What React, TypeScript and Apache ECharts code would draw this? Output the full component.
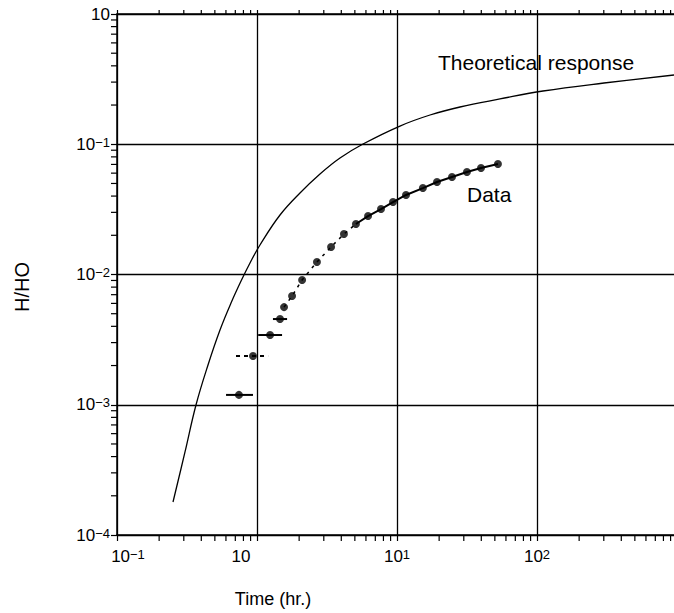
import React, { useEffect, useRef } from 'react';
import * as echarts from 'echarts';

// Theoretical response curve (time in hr, H/HO)
const THEORY_T = [0.2512, 0.306, 0.3666, 0.4467, 0.5441, 0.6521, 0.7814, 0.8913, 1.05, 1.46, 2.028, 2.818, 3.916, 5.717, 10.5, 17.21, 28.18, 54.41, 110.4, 301, 952];
const THEORY_H = [1.792e-4, 4.34e-4, 9.96e-4, 2.02e-3, 3.75e-3, 6.04e-3, 9.23e-3, 0.01226, 0.01684, 0.02862, 0.04223, 0.05909, 0.07839, 0.1004, 0.138, 0.1677, 0.1932, 0.2226, 0.2563, 0.2953, 0.3402];

// Measured data
const DATA_T = [0.743, 0.936, 1.24, 1.46, 1.56, 1.78, 2.10, 2.68, 3.38, 4.18, 5.09, 6.21, 7.69, 9.36, 11.6, 15.3, 19.3, 24.7, 31.6, 39.8, 52.6];
const DATA_H = [1.19e-3, 2.37e-3, 3.43e-3, 4.55e-3, 5.62e-3, 6.84e-3, 9.08e-3, 0.01248, 0.01626, 0.02046, 0.02443, 0.0281, 0.0318, 0.036, 0.0408, 0.0461, 0.0513, 0.0561, 0.0612, 0.0657, 0.0705];

// Horizontal bars on the early data points
const BAR_T_LOW = [0.601, 0.708, 1.02, 1.30];
const BAR_T_HIGH = [0.936, 1.2, 1.51, 1.64];
const BAR_H = [1.19e-3, 2.37e-3, 3.43e-3, 4.55e-3];
const BAR_DASHED = [false, true, false, false];

// Where the data trace is drawn dashed / solid
const DASH_FROM = 4;
const SOLID_FROM = 10;

// Axes
const X_MIN = 0.1;
const X_MAX = 1000;
const Y_MIN = 1e-4;
const Y_MAX = 1;
const X_TICK_EXPONENTS = [-1, 0, 1, 2];
const X_TICK_SUPER = ['−1', '', '1', '2'];
const Y_TICK_EXPONENTS = [-4, -3, -2, -1, 0];
const Y_TICK_SUPER = ['−4', '−3', '−2', '−1', ''];
const X_DECADES = [0.1, 1, 10, 100];
const Y_DECADES = [1e-4, 1e-3, 1e-2, 1e-1];
const MINOR_MULT = [2, 3, 4, 5, 6, 7, 8, 9];

const FONT = 'Liberation Sans, Arial, Helvetica, sans-serif';

export default function App() {
  const ref = useRef<HTMLDivElement>(null);

  useEffect(() => {
    if (!ref.current) return;
    const chart = echarts.init(ref.current, null, { renderer: 'svg' });

    const minorX: number[] = [];
    X_DECADES.forEach((d) => MINOR_MULT.forEach((m) => minorX.push(d * m)));
    const minorY: number[] = [];
    Y_DECADES.forEach((d) => MINOR_MULT.forEach((m) => minorY.push(d * m)));

    const theory = THEORY_T.map((t, i) => [t, THEORY_H[i]]);
    const data = DATA_T.map((t, i) => [t, DATA_H[i]]);
    const dashed = data.slice(DASH_FROM, SOLID_FROM + 1);
    const solid = data.slice(SOLID_FROM);
    const bars = BAR_H.map((h, i) => [BAR_T_LOW[i], h, BAR_T_HIGH[i], BAR_DASHED[i] ? 1 : 0]);

    const tickStyle = { stroke: '#000', lineWidth: 1.2 };

    const xLabel = (v: number) => {
      const e = Math.round(Math.log10(v));
      const i = X_TICK_EXPONENTS.indexOf(e);
      if (i < 0) return '';
      const sup = X_TICK_SUPER[i];
      const base = i === 0 ? 'b0' : i === 1 ? 'b1' : 'b';
      return sup ? `{${base}|10}{s|${sup}}` : `{${base}|10}`;
    };
    const yLabel = (v: number) => {
      const e = Math.round(Math.log10(v));
      const i = Y_TICK_EXPONENTS.indexOf(e);
      if (i < 0) return '';
      const sup = Y_TICK_SUPER[i];
      return sup ? `{b|10}{s|${sup}}` : `{b|10}`;
    };
    const base = { fontSize: 17, fontFamily: FONT, color: '#000', lineHeight: 17, verticalAlign: 'bottom' };
    const rich = {
      b: base,
      b0: { ...base, padding: [0, 0, 0, 22] },
      b1: { ...base, padding: [6, 32, 0, 0] },
      s: { fontSize: 13, fontFamily: FONT, color: '#000', lineHeight: 13, verticalAlign: 'top', padding: [0, 0, 10, 0] },
    };

    const gridLine = { show: true, lineStyle: { color: '#000', width: 1.3 } };

    chart.setOption({
      animation: false,
      backgroundColor: '#fff',
      grid: { left: 117, right: 0, top: 14, bottom: 78, containLabel: false },
      xAxis: [
        {
          type: 'log',
          logBase: 10,
          min: X_MIN,
          max: X_MAX,
          axisLine: { show: true, onZero: false, lineStyle: { color: '#000', width: 1.5 } },
          axisTick: { show: true, inside: false, length: 6, lineStyle: { color: '#000', width: 1.2 } },
          axisLabel: { show: true, margin: 13, formatter: xLabel, rich, showMaxLabel: false, showMinLabel: true },
          splitLine: gridLine,
        },
        {
          type: 'log',
          logBase: 10,
          position: 'top',
          min: X_MIN,
          max: X_MAX,
          axisLine: { show: true, onZero: false, lineStyle: { color: '#000', width: 1.5 } },
          axisTick: { show: true, inside: false, length: 4, lineStyle: { color: '#000', width: 1.2 } },
          axisLabel: { show: false },
          splitLine: { show: false },
        },
      ],
      yAxis: {
        type: 'log',
        logBase: 10,
        min: Y_MIN,
        max: Y_MAX,
        axisLine: { show: true, onZero: false, lineStyle: { color: '#000', width: 1.5 } },
        axisTick: { show: true, inside: false, length: 6, lineStyle: { color: '#000', width: 1.2 } },
        axisLabel: { show: true, margin: 7, formatter: yLabel, rich, showMaxLabel: true, showMinLabel: true },
        splitLine: gridLine,
      },
      graphic: [
        { type: 'text', x: 438, y: 62, style: { text: 'Theoretical response', fontSize: 21, fontFamily: FONT, fill: '#000', align: 'left', verticalAlign: 'middle' } },
        { type: 'text', x: 467, y: 194, style: { text: 'Data', fontSize: 21, fontFamily: FONT, fill: '#000', align: 'left', verticalAlign: 'middle' } },
        { type: 'text', x: 273, y: 599, style: { text: 'Time (hr.)', fontSize: 18, fontFamily: FONT, fill: '#000', align: 'center', verticalAlign: 'middle' } },
        { type: 'text', x: 22, y: 287, rotation: Math.PI / 2, style: { text: 'H/HO', fontSize: 20, fontFamily: FONT, fill: '#000', align: 'center', verticalAlign: 'middle' } },
      ],
      series: [
        {
          type: 'line',
          data: theory,
          smooth: 0.4,
          showSymbol: false,
          symbol: 'none',
          lineStyle: { color: '#000', width: 1.3 },
          silent: true,
        },
        {
          type: 'line',
          data: dashed,
          showSymbol: false,
          symbol: 'none',
          lineStyle: { color: '#000', width: 1.5, type: [3, 5] },
          silent: true,
        },
        {
          type: 'line',
          data: solid,
          showSymbol: false,
          symbol: 'none',
          lineStyle: { color: '#000', width: 2 },
          silent: true,
        },
        {
          type: 'custom',
          data: bars,
          encode: { x: 0, y: 1 },
          renderItem: (_p: any, api: any) => {
            const a = api.coord([api.value(0), api.value(1)]);
            const b = api.coord([api.value(2), api.value(1)]);
            return {
              type: 'line',
              shape: { x1: a[0], y1: a[1], x2: b[0], y2: b[1] },
              style: { stroke: '#000', lineWidth: 2, lineDash: api.value(3) ? [4, 4] : null },
            };
          },
          silent: true,
        },
        {
          type: 'scatter',
          data,
          symbol: 'circle',
          symbolSize: 8,
          itemStyle: { color: '#000' },
          silent: true,
        },
        {
          type: 'custom',
          data: minorX.map((v) => [v, Y_MIN]),
          encode: { x: 0, y: 1 },
          clip: false,
          renderItem: (_p: any, api: any) => {
            const p = api.coord([api.value(0), api.value(1)]);
            return { type: 'line', shape: { x1: p[0], y1: p[1], x2: p[0], y2: p[1] + 6 }, style: tickStyle };
          },
          silent: true,
        },
        {
          type: 'custom',
          data: minorX.map((v) => [v, Y_MAX]),
          encode: { x: 0, y: 1 },
          clip: false,
          renderItem: (_p: any, api: any) => {
            const p = api.coord([api.value(0), api.value(1)]);
            return { type: 'line', shape: { x1: p[0], y1: p[1], x2: p[0], y2: p[1] - 4 }, style: tickStyle };
          },
          silent: true,
        },
        {
          type: 'custom',
          data: minorY.map((v) => [X_MIN, v]),
          encode: { x: 0, y: 1 },
          clip: false,
          renderItem: (_p: any, api: any) => {
            const p = api.coord([api.value(0), api.value(1)]);
            return { type: 'line', shape: { x1: p[0], y1: p[1], x2: p[0] - 6, y2: p[1] }, style: tickStyle };
          },
          silent: true,
        },
      ],
    });

    return () => chart.dispose();
  }, []);

  return (
    <div style={{ position: 'fixed', left: 0, top: 0, width: 674, height: 613, overflow: 'hidden', background: '#fff' }}>
      <div ref={ref} style={{ width: 677, height: 613 }} />
    </div>
  );
}
